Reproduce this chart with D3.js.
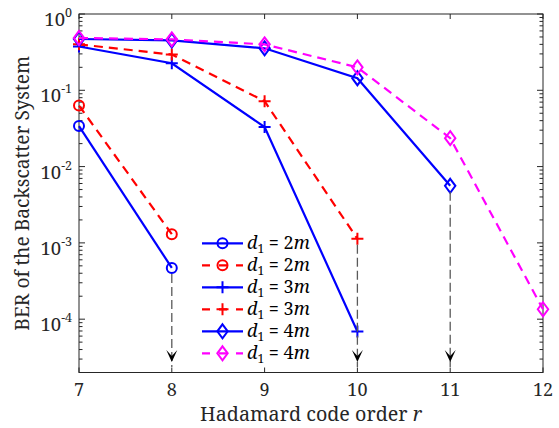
<!DOCTYPE html>
<html><head><meta charset="utf-8">
<script src="https://cdn.jsdelivr.net/npm/d3@7/dist/d3.min.js"></script>
<style>body{margin:0;background:#fff}svg{display:block}</style>
</head><body><svg id="c" width="559" height="428"></svg>
<script>
// ---- data ----
const xCodeOrder = [7, 8, 9, 10, 11, 12];
const xTicks = [7, 8, 9, 10, 11, 12];
const yTickExps = [0, -1, -2, -3, -4];
const berBlueCircle   = [0.034, 4.7e-4];
const berRedCircle    = [0.063, 1.3e-3];
const berBluePlus     = [0.375, 0.226, 0.033, 6.9e-5];
const berRedPlus      = [0.40, 0.294, 0.072, 1.13e-3];
const berBlueDiamond  = [0.47, 0.45, 0.355, 0.144, 5.6e-3];
const berMagDiamond   = [0.485, 0.465, 0.40, 0.20, 0.0236, 1.35e-4];
const legendLabels = ["2", "2", "3", "3", "4", "4"];
const arrowX     = [8, 10, 11];
const arrowFrom  = [4.7e-4, 1.13e-3, 5.6e-3];
const arrowTo    = 2.75e-5;

const series = [
  {v: berBlueCircle,  color: "#0000ff", dash: null,  m: "circle"},
  {v: berRedCircle,   color: "#ff0000", dash: "9,6", m: "circle"},
  {v: berBluePlus,    color: "#0000ff", dash: null,  m: "plus"},
  {v: berRedPlus,     color: "#ff0000", dash: "9,6", m: "plus"},
  {v: berBlueDiamond, color: "#0000ff", dash: null,  m: "diamond"},
  {v: berMagDiamond,  color: "#ff00ff", dash: "9,6", m: "diamond"}
];

const FONT = '"Noto Serif","Liberation Serif",serif';
const L = 79, R = 543, T = 14, B = 372.5;
const x = d3.scaleLinear().domain([7, 12]).range([L, R]);
const y = d3.scaleLog().domain([2e-5, 1]).range([B, T]);
const svg = d3.select("#c");
const axisColor = "#262626";

function txt(parent) { return parent.append("text").style("font-family", FONT); }
function fitWidth(t, target) {
  const w = t.node().getComputedTextLength();
  const fs = parseFloat(t.attr("font-size"));
  t.attr("font-size", fs * target / w);
}

svg.append("rect").attr("x", L).attr("y", T).attr("width", R - L).attr("height", B - T)
  .attr("fill", "none").attr("stroke", axisColor).attr("stroke-width", 1);

const gt = svg.append("g").attr("stroke", axisColor).attr("stroke-width", 1);
xTicks.forEach(t => {
  gt.append("line").attr("x1", x(t)).attr("x2", x(t)).attr("y1", B).attr("y2", B - 5);
  gt.append("line").attr("x1", x(t)).attr("x2", x(t)).attr("y1", T).attr("y2", T + 5);
});
const [ymin, ymax] = y.domain();
for (let e = -5; e <= 0; e++) {
  for (let k = 1; k <= 9; k++) {
    const v = k * Math.pow(10, e);
    if (v < ymin * 0.999 || v > ymax * 1.001) continue;
    const len = k === 1 ? 6 : 3.5;
    gt.append("line").attr("x1", L).attr("x2", L + len).attr("y1", y(v)).attr("y2", y(v));
    gt.append("line").attr("x1", R).attr("x2", R - len).attr("y1", y(v)).attr("y2", y(v));
  }
}

xTicks.forEach(d => {
  txt(svg).attr("x", x(d)).attr("y", 395.5).attr("text-anchor", "middle")
    .attr("font-size", 18).attr("fill", axisColor).text(d);
});
yTickExps.forEach(e => {
  const t = txt(svg).attr("x", 72).attr("y", y(Math.pow(10, e)) + 12)
    .attr("text-anchor", "end").attr("font-size", 18.5).attr("fill", axisColor);
  t.append("tspan").text("10");
  t.append("tspan").attr("dy", -9).attr("font-size", 12.5).text(e === 0 ? "0" : "-" + (-e));
});
const xl = txt(svg).attr("x", (L + R) / 2).attr("y", 421).attr("text-anchor", "middle")
  .attr("font-size", 19).attr("fill", axisColor);
xl.append("tspan").text("Hadamard code order ");
xl.append("tspan").attr("font-style", "italic").text("r");
fitWidth(xl, 222);
const yl = txt(svg).attr("transform", `translate(29,${(T + B) / 2}) rotate(-90)`)
  .attr("text-anchor", "middle").attr("font-size", 18).attr("fill", axisColor)
  .text("BER of the Backscatter System");
fitWidth(yl, 275);

function marker(g, type, cx, cy, color) {
  if (type === "circle") {
    g.append("circle").attr("cx", cx).attr("cy", cy).attr("r", 5)
      .attr("fill", "none").attr("stroke", color).attr("stroke-width", 2);
  } else if (type === "plus") {
    g.append("path").attr("d", `M${cx - 6},${cy}H${cx + 6}M${cx},${cy - 6}V${cy + 6}`)
      .attr("stroke", color).attr("stroke-width", 2).attr("fill", "none");
  } else {
    g.append("path").attr("d", `M${cx},${cy - 7}L${cx + 5.2},${cy}L${cx},${cy + 7}L${cx - 5.2},${cy}Z`)
      .attr("stroke", color).attr("stroke-width", 2).attr("fill", "none");
  }
}

const line = d3.line().x((d, i) => x(xCodeOrder[i])).y(d => y(d));
series.forEach(s => {
  const g = svg.append("g");
  g.append("path").attr("d", line(s.v)).attr("fill", "none").attr("stroke", s.color)
    .attr("stroke-width", 2.2).attr("stroke-dasharray", s.dash);
  s.v.forEach((v, i) => marker(g, s.m, x(xCodeOrder[i]), y(v), s.color));
});

arrowX.forEach((ax, i) => {
  const px = x(ax), y0 = y(arrowFrom[i]) + 6, y1 = y(arrowTo);
  svg.append("line").attr("x1", px).attr("x2", px).attr("y1", y0).attr("y2", y1 + 5)
    .attr("stroke", "#5a5a5a").attr("stroke-width", 1.3).attr("stroke-dasharray", "9,4");
  svg.append("path")
    .attr("d", `M${px},${y1}L${px - 5.5},${y1 - 12}L${px},${y1 - 6}L${px + 5.5},${y1 - 12}Z`)
    .attr("fill", "#000");
});

const lg = svg.append("g");
series.forEach((s, i) => {
  const cy = 243.3 + i * 22;
  lg.append("line").attr("x1", 202).attr("x2", 243).attr("y1", cy).attr("y2", cy)
    .attr("stroke", s.color).attr("stroke-width", 2.2).attr("stroke-dasharray", s.dash ? "8,9" : null);
  marker(lg, s.m, 222.5, cy, s.color);
  const t = txt(lg).attr("x", 247).attr("y", cy + 6)
    .attr("font-size", 18).attr("fill", "#000");
  t.append("tspan").attr("font-style", "italic").text("d");
  t.append("tspan").attr("font-size", 12).attr("dy", 4).text("1");
  t.append("tspan").attr("dy", -4).text("  = " + legendLabels[i]);
  t.append("tspan").attr("font-style", "italic").text("m");
});
</script></body></html>
